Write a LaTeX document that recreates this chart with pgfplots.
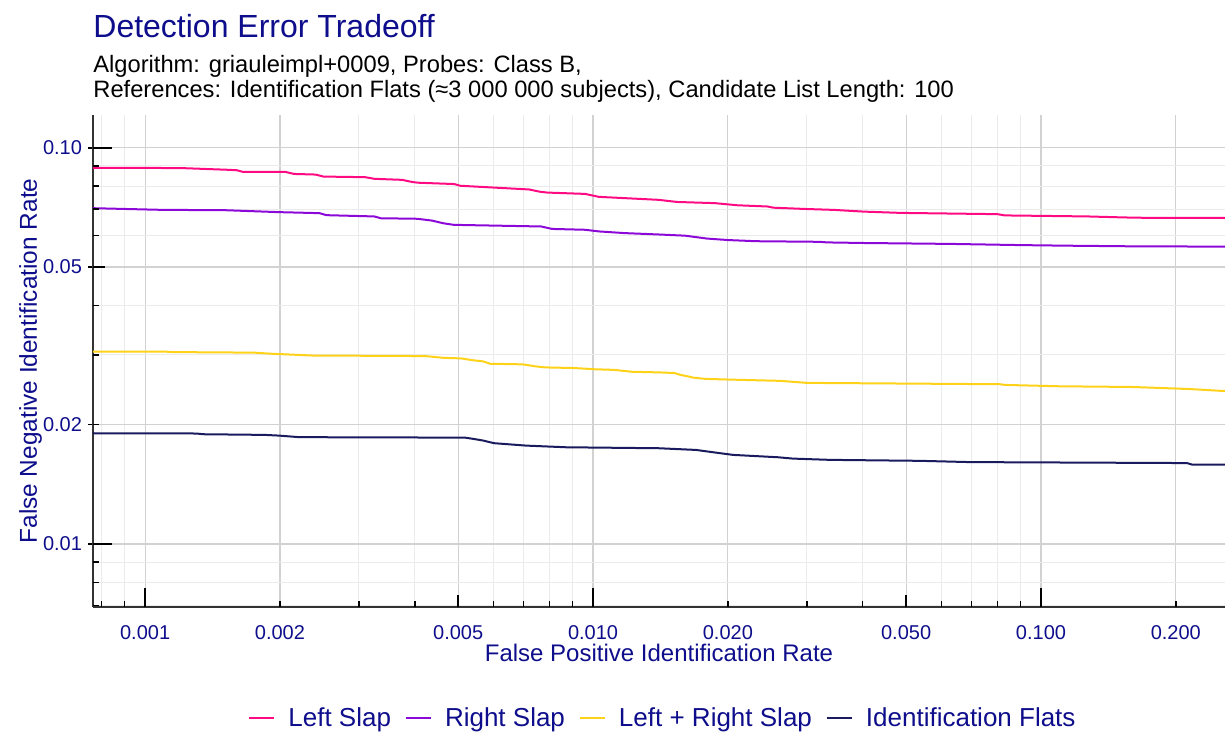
\documentclass[border=0pt]{standalone}
\usepackage{pgfplots}
\pgfplotsset{compat=1.18}
\usepackage{fontspec}
\setmainfont{Liberation Sans}
\definecolor{txtblue}{RGB}{14,14,140}
\definecolor{axisgrey}{HTML}{333333}
\definecolor{gridmaj}{HTML}{D2D2D2}
\definecolor{gridmin}{HTML}{EBEBEB}
\definecolor{cpink}{HTML}{FF0A82}
\definecolor{cpurple}{HTML}{8C08D8}
\definecolor{cyellow}{HTML}{FFD21A}
\definecolor{cnavy}{HTML}{1A1A5E}
\begin{document}
\begin{tikzpicture}
\useasboundingbox (-46.5pt,-62.5pt) rectangle (566pt,303.5pt);
\begin{axis}[
  at={(0,0)}, anchor=south west,
  scale only axis, width=566pt, height=246pt,
  xmode=log, ymode=log,
  xmin=0.000765, xmax=0.2575, ymin=0.00693, ymax=0.121,
  axis lines*=left,
  axis line style={color=axisgrey, line width=0.8pt},
  xtick={0.001,0.002,0.005,0.01,0.02,0.05,0.1,0.2},
  xticklabels={0.001,0.002,0.005,0.010,0.020,0.050,0.100,0.200},
  minor xtick={0.0008,0.0009,0.003,0.004,0.006,0.007,0.008,0.009,0.03,0.04,0.06,0.07,0.08,0.09},
  ytick={0.01,0.02,0.05,0.1},
  yticklabels={0.01,0.02,0.05,0.10},
  minor ytick={0.007,0.008,0.009,0.03,0.04,0.06,0.07,0.08,0.09},
  grid=both,
  major grid style={color=gridmaj, line width=0.6pt},
  minor grid style={color=gridmin, line width=0.5pt},
  xtick style={draw=none},
  ytick style={color=black, line width=0.75pt},
  tick align=outside,
  major tick length=2.5pt,
  minor tick length=0pt,
  xticklabel style={font=\fontsize{10}{11}\selectfont, text=txtblue, anchor=base, yshift=-13.6pt},
  yticklabel style={font=\fontsize{10}{11}\selectfont, text=txtblue, anchor=east, xshift=0.5pt},
  xlabel={False Positive Identification Rate},
  ylabel={False Negative Identification Rate},
  xlabel style={font=\fontsize{12}{14}\selectfont, text=txtblue, at={(axis description cs:0.5,-0.1100)}, anchor=base},
  ylabel style={font=\fontsize{12.2}{14}\selectfont, text=txtblue, at={(axis description cs:-0.0495,0.5)}, anchor=base, rotate=0},
  legend columns=4,
  legend style={at={(0.5044,-0.226)}, anchor=center, draw=none, fill=none,
    font=\fontsize{13}{15}\selectfont, text=txtblue,
    /tikz/every odd column/.append style={column sep=4.5pt},
    /tikz/every even column/.append style={column sep=5pt}},
  legend image code/.code={\draw[#1] (0pt,0pt) -- (12.5pt,0pt);},
]
\addplot[cpink, line width=1pt] table {
0.000765 0.0890
0.00120 0.0889
0.00153 0.0880
0.00160 0.0878
0.00165 0.0870
0.00205 0.0870
0.00215 0.0859
0.00240 0.0856
0.00250 0.0846
0.00310 0.0843
0.00325 0.0835
0.00375 0.0830
0.00390 0.0822
0.00400 0.0818
0.00410 0.0816
0.00490 0.0810
0.00505 0.0802
0.00720 0.0785
0.00760 0.0775
0.00790 0.0771
0.00960 0.0765
0.01030 0.0752
0.01400 0.0739
0.01540 0.0730
0.01870 0.0725
0.02100 0.0716
0.02450 0.0711
0.02530 0.0706
0.02960 0.0701
0.03450 0.0697
0.04030 0.0690
0.04870 0.0685
0.05920 0.0683
0.08000 0.0680
0.08300 0.0675
0.12700 0.0671
0.15400 0.0667
0.18000 0.0665
0.26000 0.0665
};
\addlegendentry{Left Slap}
\addplot[cpurple, line width=1pt] table {
0.000765 0.0704
0.00110 0.0697
0.00150 0.0696
0.00199 0.0688
0.00245 0.0684
0.00254 0.0676
0.00325 0.0671
0.00336 0.0664
0.00405 0.0662
0.00437 0.0655
0.00463 0.0645
0.00489 0.0639
0.00766 0.0633
0.00810 0.0624
0.00960 0.0621
0.01031 0.0615
0.01179 0.0609
0.01411 0.0604
0.01605 0.0600
0.01797 0.0590
0.02000 0.0585
0.02310 0.0581
0.03200 0.0579
0.03330 0.0577
0.04030 0.0575
0.06270 0.0572
0.09020 0.0568
0.11550 0.0566
0.16050 0.0564
0.26000 0.0563
};
\addlegendentry{Right Slap}
\addplot[cyellow, line width=1pt] table {
0.000765 0.0306
0.00110 0.0306
0.00115 0.0305
0.00175 0.0304
0.00192 0.0302
0.00206 0.0301
0.00236 0.0299
0.00422 0.0298
0.00463 0.0295
0.00508 0.0294
0.00537 0.0291
0.00568 0.0289
0.00589 0.0285
0.00698 0.0284
0.00739 0.0281
0.00781 0.0279
0.00907 0.0278
0.0101 0.0276
0.01114 0.0275
0.01222 0.0272
0.0141 0.0271
0.0152 0.0270
0.0157 0.0267
0.0165 0.0264
0.0167 0.0263
0.0178 0.0261
0.0200 0.0260
0.0262 0.0258
0.0300 0.0255
0.0810 0.0253
0.0830 0.0252
0.110 0.0250
0.160 0.0249
0.215 0.0246
0.260 0.0243
};
\addlegendentry{Left + Right Slap}
\addplot[cnavy, line width=1pt] table {
0.000765 0.01903
0.00130 0.01900
0.00135 0.01892
0.00185 0.01885
0.00199 0.01877
0.00221 0.01860
0.00518 0.01855
0.00540 0.01842
0.00568 0.01824
0.00601 0.01796
0.00709 0.01771
0.00870 0.01754
0.01404 0.01744
0.01698 0.01727
0.01853 0.01704
0.02053 0.01678
0.02587 0.01655
0.02795 0.01642
0.03380 0.01630
0.05370 0.01621
0.06940 0.01609
0.2118 0.01600
0.2173 0.01586
0.2600 0.01586
};
\addlegendentry{Identification Flats}
\end{axis}
\begin{axis}[
  at={(0,0)}, anchor=south west,
  scale only axis, width=566pt, height=246pt,
  xmode=log, ymode=log,
  xmin=0.000765, xmax=0.2575, ymin=0.00693, ymax=0.121,
  axis lines*=left,
  axis line style={draw=none},
  grid=none,
  tick align=inside,
  xtick={0.001,0.01,0.1}, xticklabels={},
  ytick={0.01,0.1}, yticklabels={},
  minor xtick={0.0008,0.0009,0.002,0.003,0.004,0.006,0.007,0.008,0.009,0.02,0.03,0.04,0.06,0.07,0.08,0.09,0.2},
  minor ytick={0.007,0.008,0.009,0.02,0.03,0.04,0.06,0.07,0.08,0.09},
  extra x ticks={0.005,0.05}, extra x tick labels={},
  extra y ticks={0.05}, extra y tick labels={},
  extra tick style={major tick length=6pt},
  major tick length=9.5pt,
  minor tick length=3.25pt,
  every tick/.style={color=black, line width=0.75pt},
]
\end{axis}
\node[anchor=base west, font=\fontsize{16}{18}\selectfont, text=txtblue, inner sep=0pt] at (0pt,284.5pt) {Detection Error Tradeoff};
\node[anchor=base west, font=\fontsize{11.85}{14}\selectfont, text=black, inner sep=0pt] at (0pt,267pt) {Algorithm: griauleimpl+0009, Probes: Class B,};
\node[anchor=base west, font=\fontsize{11.85}{14}\selectfont, text=black, inner sep=0pt] at (0pt,254.8pt) {References: Identification Flats (≈3 000 000 subjects), Candidate List Length: 100};
\end{tikzpicture}
\end{document}
